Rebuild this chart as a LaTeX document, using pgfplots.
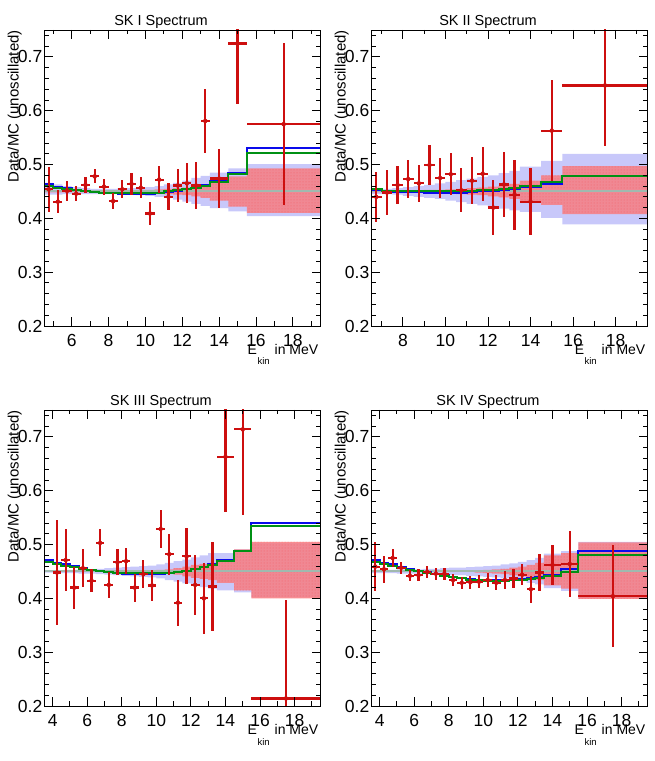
\documentclass[border=0pt]{standalone}
\usepackage{fontspec}
\setmainfont{Liberation Sans}
\usepackage{pgfplots}
\pgfplotsset{compat=1.18}
\usepackage{pgfplotstable}
\usepgfplotslibrary{fillbetween}
\usetikzlibrary{patterns,calc}

\definecolor{datared}{RGB}{205,15,15}
\definecolor{bandblue}{RGB}{200,200,250}
\definecolor{bandred}{RGB}{250,122,125}
\definecolor{dotred}{RGB}{245,95,100}
\definecolor{lineblue}{RGB}{10,10,235}
\definecolor{linegreen}{RGB}{0,145,20}
\definecolor{centergray}{RGB}{160,185,175}

% ---------------- SK I ----------------
\pgfplotstableread{
x    blue   green  bl     bu     rl     ru
4.5  0.463  0.460  0.444  0.466  0.4485 0.4515
5.0  0.459  0.457  0.444  0.463  0.4485 0.4515
5.5  0.456  0.454  0.445  0.460  0.4485 0.4515
6.0  0.4525 0.452  0.445  0.458  0.4485 0.4515
6.5  0.451  0.450  0.445  0.456  0.4485 0.4515
7.0  0.449  0.449  0.445  0.455  0.4485 0.4515
7.5  0.448  0.448  0.445  0.455  0.4485 0.4515
8.0  0.4475 0.4475 0.445  0.455  0.4485 0.4515
8.5  0.446  0.447  0.444  0.456  0.448  0.452
9.0  0.446  0.447  0.444  0.456  0.448  0.452
9.5  0.446  0.447  0.443  0.457  0.447  0.453
10.0 0.446  0.447  0.442  0.458  0.447  0.453
10.5 0.4475 0.448  0.440  0.460  0.446  0.454
11.0 0.449  0.450  0.438  0.463  0.445  0.455
11.5 0.451  0.452  0.435  0.466  0.444  0.456
12.0 0.454  0.454  0.431  0.470  0.443  0.457
12.5 0.457  0.457  0.427  0.475  0.441  0.459
13.0 0.462  0.461  0.423  0.479  0.438  0.462
13.5 0.469  0.467  0.419  0.485  0.433  0.468
14.5 0.485  0.483  0.413  0.493  0.422  0.478
15.5 0.530  0.522  0.404  0.501  0.410  0.493
19.5 0.530  0.522  0.404  0.501  0.410  0.493
}\linesA
\pgfplotstableread{
x     y      ex    ey
4.75  0.454  0.25  0.042
5.25  0.431  0.25  0.021
5.75  0.451  0.25  0.018
6.25  0.446  0.25  0.014
6.75  0.462  0.25  0.015
7.25  0.478  0.25  0.013
7.75  0.459  0.25  0.015
8.25  0.432  0.25  0.015
8.75  0.454  0.25  0.017
9.25  0.464  0.25  0.020
9.75  0.457  0.25  0.019
10.25 0.409  0.25  0.021
10.75 0.472  0.25  0.025
11.25 0.440  0.25  0.025
11.75 0.461  0.25  0.030
12.25 0.465  0.25  0.037
12.75 0.461  0.25  0.044
13.25 0.581  0.25  0.059
14.0  0.474  0.5   0.055
15.0  0.725  0.5   0.112
17.5  0.575  2.0   0.150
}\dataA

% ---------------- SK II ----------------
\pgfplotstableread{
x    blue   green  bl     bu     rl     ru
6.5  0.453  0.454  0.445  0.455  0.4485 0.4515
7.0  0.450  0.451  0.445  0.455  0.4485 0.4515
7.5  0.449  0.450  0.444  0.456  0.4485 0.4515
8.0  0.449  0.450  0.442  0.458  0.4485 0.4515
8.5  0.449  0.450  0.440  0.460  0.448  0.452
9.0  0.448  0.450  0.438  0.462  0.447  0.453
9.5  0.448  0.450  0.436  0.465  0.447  0.453
10.0 0.448  0.450  0.433  0.468  0.446  0.454
10.5 0.448  0.450  0.430  0.471  0.445  0.455
11.0 0.449  0.451  0.427  0.474  0.444  0.456
11.5 0.450  0.452  0.424  0.477  0.443  0.457
12.0 0.451  0.453  0.421  0.480  0.441  0.459
12.5 0.453  0.455  0.418  0.484  0.439  0.461
13.0 0.455  0.457  0.415  0.488  0.436  0.464
13.5 0.458  0.460  0.412  0.496  0.432  0.470
14.5 0.464  0.467  0.401  0.507  0.425  0.480
15.5 0.478  0.479  0.389  0.520  0.408  0.497
19.5 0.478  0.479  0.389  0.520  0.408  0.497
}\linesB
\pgfplotstableread{
x     y      ex    ey
6.75  0.440  0.25  0.047
7.25  0.448  0.25  0.042
7.75  0.462  0.25  0.036
8.25  0.473  0.25  0.035
8.75  0.465  0.25  0.035
9.25  0.499  0.25  0.037
9.75  0.475  0.25  0.037
10.25 0.482  0.25  0.039
10.75 0.452  0.25  0.041
11.25 0.470  0.25  0.044
11.75 0.483  0.25  0.050
12.25 0.420  0.25  0.051
12.75 0.463  0.25  0.060
13.25 0.444  0.25  0.065
14.0  0.431  0.5   0.062
15.0  0.563  0.5   0.094
17.5  0.647  2.0   0.112
}\dataB

% ---------------- SK III ----------------
\pgfplotstableread{
x    blue   green  bl     bu     rl     ru
3.5  0.471  0.468  0.448  0.452  0.4495 0.4505
4.0  0.466  0.464  0.448  0.452  0.4495 0.4505
4.5  0.463  0.461  0.447  0.453  0.4495 0.4505
5.0  0.460  0.458  0.447  0.453  0.4495 0.4505
5.5  0.457  0.455  0.446  0.454  0.4495 0.4505
6.0  0.4535 0.452  0.446  0.454  0.4495 0.4505
6.5  0.450  0.450  0.445  0.455  0.4495 0.4505
7.0  0.4485 0.449  0.444  0.456  0.4495 0.4505
7.5  0.447  0.448  0.443  0.457  0.4495 0.4505
8.0  0.446  0.447  0.442  0.458  0.4495 0.4505
8.5  0.446  0.447  0.441  0.459  0.449  0.451
9.0  0.445  0.447  0.440  0.460  0.449  0.451
9.5  0.445  0.447  0.439  0.461  0.448  0.452
10.0 0.446  0.447  0.437  0.463  0.447  0.453
10.5 0.447  0.448  0.434  0.466  0.446  0.454
11.0 0.4485 0.449  0.431  0.469  0.444  0.456
11.5 0.451  0.451  0.428  0.472  0.441  0.459
12.0 0.454  0.454  0.425  0.476  0.438  0.462
12.5 0.458  0.458  0.421  0.480  0.436  0.464
13.0 0.463  0.462  0.418  0.484  0.434  0.466
13.5 0.471  0.470  0.415  0.484  0.429  0.471
14.5 0.488  0.488  0.411  0.491  0.415  0.491
15.5 0.540  0.535  0.402  0.503  0.400  0.505
19.5 0.540  0.535  0.402  0.503  0.400  0.505
}\linesC
\pgfplotstableread{
x     y      ex    ey
4.25  0.448  0.25  0.098
4.75  0.471  0.25  0.057
5.25  0.420  0.25  0.039
5.75  0.456  0.25  0.035
6.25  0.433  0.25  0.022
6.75  0.503  0.25  0.025
7.25  0.425  0.25  0.024
7.75  0.467  0.25  0.024
8.25  0.469  0.25  0.024
8.75  0.420  0.25  0.026
9.25  0.445  0.25  0.026
9.75  0.424  0.25  0.029
10.25 0.529  0.25  0.036
10.75 0.482  0.25  0.038
11.25 0.392  0.25  0.043
11.75 0.478  0.25  0.052
12.25 0.425  0.25  0.056
12.75 0.400  0.25  0.066
13.25 0.422  0.25  0.083
14.0  0.663  0.5   0.102
15.0  0.714  0.5   0.159
17.5  0.214  2.0   0.183
}\dataC

% ---------------- SK IV ----------------
\pgfplotstableread{
x    blue   green  bl     bu     rl     ru
3.5  0.471  0.467  0.447  0.453  0.4495 0.4505
4.0  0.4665 0.464  0.447  0.453  0.4495 0.4505
4.5  0.463  0.461  0.447  0.453  0.4495 0.4505
5.0  0.458  0.457  0.446  0.454  0.4495 0.4505
5.5  0.454  0.453  0.446  0.454  0.4495 0.4505
6.0  0.451  0.450  0.446  0.454  0.4495 0.4505
6.5  0.449  0.448  0.445  0.455  0.4495 0.4505
7.0  0.446  0.445  0.445  0.455  0.4495 0.4505
7.5  0.443  0.442  0.444  0.456  0.4495 0.4505
8.0  0.440  0.439  0.443  0.457  0.4495 0.4505
8.5  0.438  0.437  0.443  0.457  0.4495 0.4505
9.0  0.436  0.435  0.442  0.458  0.449  0.451
9.5  0.435  0.434  0.441  0.459  0.448  0.452
10.0 0.4335 0.433  0.440  0.460  0.447  0.453
10.5 0.4335 0.433  0.439  0.461  0.446  0.454
11.0 0.4335 0.433  0.437  0.463  0.445  0.455
11.5 0.434  0.4335 0.435  0.465  0.443  0.457
12.0 0.4355 0.435  0.432  0.468  0.441  0.459
12.5 0.437  0.436  0.429  0.471  0.438  0.462
13.0 0.440  0.438  0.426  0.475  0.434  0.466
13.5 0.444  0.441  0.419  0.483  0.424  0.480
14.5 0.454  0.449  0.414  0.488  0.418  0.484
15.5 0.488  0.480  0.400  0.505  0.399  0.504
19.5 0.488  0.480  0.400  0.505  0.399  0.504
}\linesD
\pgfplotstableread{
x     y      ex    ey
3.75  0.459  0.25  0.045
4.25  0.454  0.25  0.025
4.75  0.475  0.25  0.017
5.25  0.457  0.25  0.011
5.75  0.442  0.25  0.010
6.25  0.443  0.25  0.011
6.75  0.449  0.25  0.011
7.25  0.446  0.25  0.011
7.75  0.446  0.25  0.011
8.25  0.434  0.25  0.011
8.75  0.429  0.25  0.011
9.25  0.430  0.25  0.012
9.75  0.431  0.25  0.012
10.25 0.434  0.25  0.013
10.75 0.429  0.25  0.014
11.25 0.434  0.25  0.016
11.75 0.437  0.25  0.017
12.25 0.444  0.25  0.020
12.75 0.417  0.25  0.025
13.25 0.448  0.25  0.035
14.0  0.462  0.5   0.038
15.0  0.464  0.5   0.062
17.5  0.404  2.0   0.095
}\dataD

\pgfplotsset{skstyle/.style={
  scale only axis, width=276.5pt, height=296pt,
  xmax=19.5, ymin=0.2, ymax=0.75,
  axis on top,
  axis line style={line width=0.9pt},
  every tick/.style={black, line width=0.9pt},
  major tick length=9pt, minor tick length=4.5pt,
  tick align=inside,
  xtick={4,6,...,18}, minor xtick={3,5,...,19},
  ytick={0.2,0.3,0.4,0.5,0.6,0.7},
  minor ytick={0.22,0.24,0.26,0.28,0.32,0.34,0.36,0.38,0.42,0.44,0.46,0.48,0.52,0.54,0.56,0.58,0.62,0.64,0.66,0.68,0.72,0.74},
  /pgf/number format/assume math mode=true,
  yticklabel style={/pgf/number format/fixed, /pgf/number format/precision=1, /pgf/number format/fixed zerofill, anchor=east, inner sep=0pt, xshift=-1.5pt},
  xticklabel style={anchor=north, inner sep=0pt, yshift=-8pt},
  ticklabel style={font=\fontsize{17.5}{17.5}\selectfont},
}}

\newcommand{\skpanel}[6]{%
\begin{axis}[skstyle, name=#1, at={#2}, anchor=south west, xmin=#3]
  \addplot[name path=bu, draw=none, const plot] table[x=x,y=bu]{#4};
  \addplot[name path=bl, draw=none, const plot] table[x=x,y=bl]{#4};
  \addplot[fill=bandblue, draw=none] fill between[of=bu and bl];
  \addplot[name path=ru, draw=none, const plot] table[x=x,y=ru]{#4};
  \addplot[name path=rl, draw=none, const plot] table[x=x,y=rl]{#4};
  \addplot[fill=bandred, fill opacity=0.82, draw=none] fill between[of=ru and rl];
  \addplot[pattern=dots, pattern color=dotred, draw=none] fill between[of=ru and rl];
  \addplot[centergray, line width=2pt] coordinates {(#3,0.45) (19.5,0.45)};
  \addplot[lineblue, line width=2pt, const plot] table[x=x,y=blue]{#4};
  \addplot[linegreen, line width=2pt, const plot] table[x=x,y=green]{#4};
  \addplot[datared, only marks, mark=none,
    error bars/.cd, x dir=both, x explicit, y dir=both, y explicit,
    error mark=none, error bar style={draw=datared, line width=2.2pt}]
    table[x=x, y=y, x error=ex, y error=ey]{#5};
\end{axis}
\node[anchor=base, inner sep=0pt, font=\fontsize{14.5}{14.5}\selectfont]
  at ($(#1.north west)+(117pt,4pt)$) {#6};
\node[rotate=90, anchor=base east, inner sep=0pt, font=\fontsize{15}{15}\selectfont]
  at ($(#1.north west)+(-25.5pt,0pt)$) {Data/MC (unoscillated)};
\node[anchor=base east, inner sep=0pt, font=\fontsize{14}{14}\selectfont]
  at ($(#1.south east)+(-2pt,-29pt)$) {E\kern0.5pt\raisebox{-10pt}{\fontsize{9.5}{9.5}\selectfont kin}\kern5pt in MeV};
}

\begin{document}
\begin{tikzpicture}
\path (0,0) rectangle (654pt,761pt);
\skpanel{axA}{(44pt,435pt)}{4.5}{\linesA}{\dataA}{SK I Spectrum}
\skpanel{axB}{(371pt,435pt)}{6.5}{\linesB}{\dataB}{SK II Spectrum}
\skpanel{axC}{(44pt,55pt)}{3.5}{\linesC}{\dataC}{SK III Spectrum}
\skpanel{axD}{(371pt,55pt)}{3.5}{\linesD}{\dataD}{SK IV Spectrum}
\end{tikzpicture}
\end{document}
